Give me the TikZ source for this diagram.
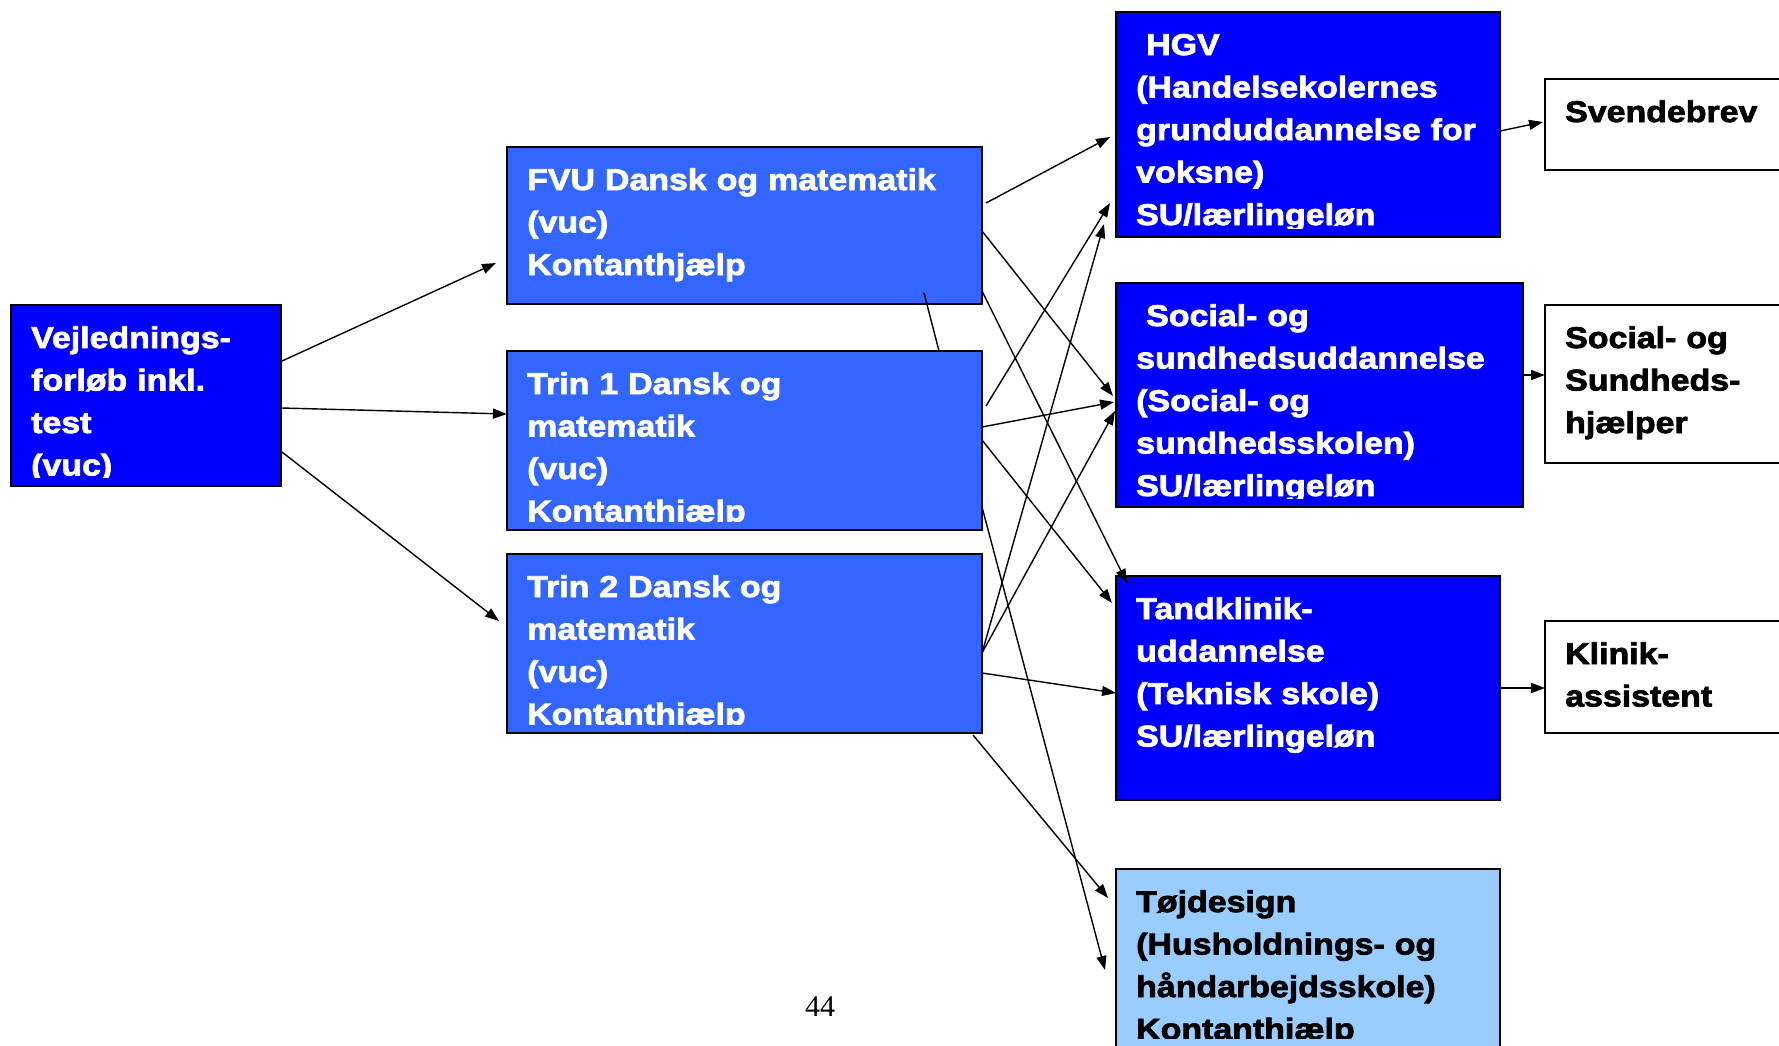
\documentclass[tikz,border=0pt]{standalone}
\usepackage{fontspec}
\usetikzlibrary{arrows.meta, calc}
\newfontfamily\boxfont{Liberation Sans}[FakeStretch=1.13, FakeBold=2.5]
\newfontfamily\pagefont{Liberation Serif}
\definecolor{skoleblue}{RGB}{0,0,255}
\definecolor{vucblue}{RGB}{51,102,255}
\definecolor{tojblue}{RGB}{153,204,255}

\begin{document}
\begin{tikzpicture}[x=1pt, y=-1pt,
  box/.style={draw=black, line width=1.5pt, anchor=north west, inner sep=0pt, outer sep=0pt},
  skolebox/.style={box, fill=skoleblue},
  vucbox/.style={box, fill=vucblue},
  tojbox/.style={box, fill=tojblue},
  resultbox/.style={box, fill=white},
  boxtext/.style={anchor=base west, inner sep=0pt, text width=440pt, align=left,
    font=\boxfont\bfseries\fontsize{30}{42.5}\selectfont},
  arr/.style={line width=1.4pt, -{Triangle[length=14pt,width=10pt]}}]
\useasboundingbox (0,0) rectangle (1779,1045);
\clip (0,0) rectangle (1779,1045);
% Vejledningsforloeb
\node[skolebox, minimum width=270pt, minimum height=181pt] (vejl) at (11,305) {};
\begin{scope}
\clip (vejl.north west) rectangle ($(vejl.south east)+(0,-9)$);
\node[boxtext, text=white] (vejltxt) at ($(vejl.north west)+(20,43)$) {Vejlednings-\\forløb inkl.\\test\\(vuc)};
\end{scope}
% FVU and Trin 1 / Trin 2
\node[vucbox, minimum width=475pt, minimum height=157pt] (fvu) at (507,147) {};
\node[boxtext, text=white] (fvutxt) at ($(fvu.north west)+(20,43)$) {FVU Dansk og matematik\\(vuc)\\Kontanthjælp};
\node[vucbox, minimum width=475pt, minimum height=179pt] (trin1) at (507,351) {};
\begin{scope}
\clip (trin1.north west) rectangle ($(trin1.south east)+(0,-9)$);
\node[boxtext, text=white] (trin1txt) at ($(trin1.north west)+(20,43)$) {Trin 1 Dansk og\\matematik\\(vuc)\\Kontanthjælp};
\end{scope}
\node[vucbox, minimum width=475pt, minimum height=179pt] (trin2) at (507,554) {};
\begin{scope}
\clip (trin2.north west) rectangle ($(trin2.south east)+(0,-9)$);
\node[boxtext, text=white] (trin2txt) at ($(trin2.north west)+(20,43)$) {Trin 2 Dansk og\\matematik\\(vuc)\\Kontanthjælp};
\end{scope}
% Uddannelser
\node[skolebox, minimum width=384pt, minimum height=225pt] (hgv) at (1116,12) {};
\begin{scope}
\clip (hgv.north west) rectangle ($(hgv.south east)+(0,-9)$);
\node[boxtext, text=white] (hgvtxt) at ($(hgv.north west)+(20,43)$) {\ HGV\\(Handelsekolernes\\grunduddannelse for\\voksne)\\SU/lærlingeløn};
\end{scope}
\node[skolebox, minimum width=407pt, minimum height=224pt] (social) at (1116,283) {};
\begin{scope}
\clip (social.north west) rectangle ($(social.south east)+(0,-9)$);
\node[boxtext, text=white] (socialtxt) at ($(social.north west)+(20,43)$) {\ Social- og\\sundhedsuddannelse\\(Social- og\\sundhedsskolen)\\SU/lærlingeløn};
\end{scope}
\node[skolebox, minimum width=384pt, minimum height=224pt] (tand) at (1116,576) {};
\node[boxtext, text=white] (tandtxt) at ($(tand.north west)+(20,43)$) {Tandklinik-\\uddannelse\\(Teknisk skole)\\SU/lærlingeløn};
\node[tojbox, minimum width=384pt, minimum height=226pt] (toej) at (1116,869) {};
\begin{scope}
\clip (toej.north west) rectangle ($(toej.north west)+(384,169)$);
\node[boxtext, text=black] (toejtxt) at ($(toej.north west)+(20,43)$) {Tøjdesign\\(Husholdnings- og\\håndarbejdsskole)\\Kontanthjælp};
\end{scope}
% Resultater
\node[resultbox, minimum width=260pt, minimum height=91pt] (svend) at (1545,79) {};
\node[boxtext] (svendtxt) at ($(svend.north west)+(20,43)$) {Svendebrev};
\node[resultbox, minimum width=260pt, minimum height=158pt] (sosuh) at (1545,305) {};
\node[boxtext] (sosuhtxt) at ($(sosuh.north west)+(20,43)$) {Social- og\\Sundheds-\\hjælper};
\node[resultbox, minimum width=260pt, minimum height=112pt] (klinik) at (1545,621) {};
\node[boxtext] (kliniktxt) at ($(klinik.north west)+(20,43)$) {Klinik-\\assistent};
% Page number
\node[font=\pagefont\fontsize{30}{36}\selectfont, anchor=base, inner sep=0pt] (sidetal) at (820,1016) {44};
% Arrows from Vejledning
\draw[arr] ($(vejl.north east)+(1,56)$) -- ($(fvu.north west)+(-11,116)$);
\draw[arr] ($(vejl.north east)+(1,103)$) -- ($(trin1.north west)+(0,63)$);
\draw[arr] ($(vejl.north east)+(1,147)$) -- ($(trin2.north west)+(-8,67)$);
% Arrows from FVU
\draw[arr] ($(fvu.north east)+(4,56)$) -- ($(hgv.north west)+(-6,125)$);
\draw[arr] ($(fvu.north east)+(0,84)$) -- ($(social.north west)+(-3,113)$);
\draw[arr] ($(fvu.north east)+(0,144)$) -- ($(tand.north west)+(11,7)$);
\draw[line width=1.4pt] ($(fvu.north west)+(417,146)$) -- ($(trin1.north west)+(432,0)$);
% Arrows from Trin 1
\draw[arr] ($(trin1.north east)+(4,55)$) -- ($(hgv.north west)+(-6,191)$);
\draw[arr] ($(trin1.north east)+(0,76)$) -- ($(social.north west)+(-2,119)$);
\draw[arr] ($(trin1.north east)+(0,89)$) -- ($(tand.north west)+(-4,27)$);
\draw[arr] ($(trin1.north east)+(0,156)$) -- ($(toej.north west)+(-11,101)$);
% Arrows from Trin 2
\draw[arr] ($(trin2.north east)+(0,99)$) -- ($(hgv.north west)+(-12,212)$);
\draw[arr] ($(trin2.north east)+(0,99)$) -- ($(social.north west)+(-1,128)$);
\draw[arr] ($(trin2.north east)+(0,119)$) -- ($(tand.north west)+(0,117)$);
\draw[arr] ($(trin2.south east)+(-9,2)$) -- ($(toej.north west)+(-8,29)$);
% Arrows to Resultater
\draw[arr] ($(hgv.north east)+(0,119)$) -- ($(svend.north west)+(-2,43)$);
\draw[arr] ($(social.north east)+(0,92)$) -- ($(sosuh.north west)+(0,70)$);
\draw[arr] ($(tand.north east)+(0,112)$) -- ($(klinik.north west)+(0,67)$);
\end{tikzpicture}
\end{document}
